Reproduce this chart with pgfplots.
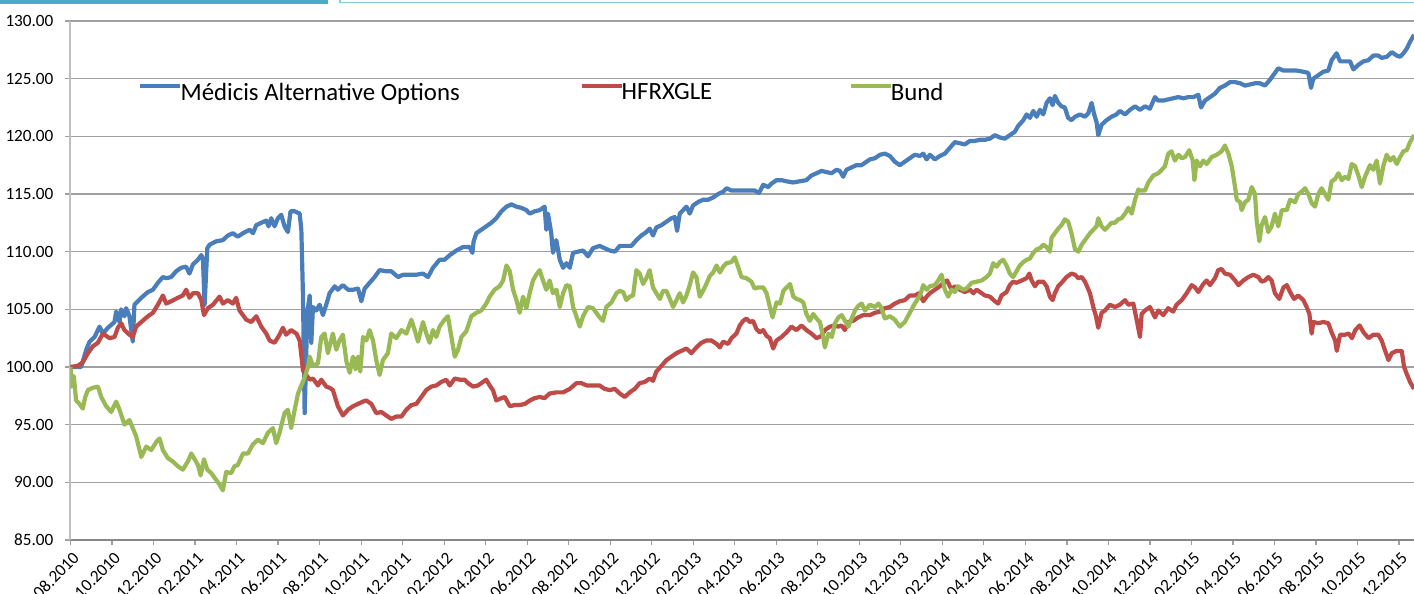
\documentclass[border=0pt]{standalone}
\usepackage{fontspec}
\setmainfont{Carlito}
\usepackage{pgfplots}
\usepackage{pgfplotstable}
\pgfplotsset{compat=1.18}
\definecolor{serA}{HTML}{4A7EBB}
\definecolor{serB}{HTML}{BE4B48}
\definecolor{serC}{HTML}{98B954}
\definecolor{gridgray}{HTML}{A0A0A0}
\definecolor{xaxisgray}{HTML}{888888}
\definecolor{yaxisgray}{HTML}{BFBFBF}
\definecolor{tealbar}{HTML}{4BACC6}
\definecolor{teallight}{HTML}{8CCBDA}

\pgfplotstableread{
x y
0 100.0
0.51 100.0
0.76 101.5
0.92 102.2
1.16 102.6
1.40 103.5
1.56 102.9
1.80 103.4
2.12 103.9
2.20 104.8
2.36 103.9
2.44 105.0
2.60 104.4
2.68 105.1
2.84 104.4
3.00 102.2
3.08 105.4
3.41 106.0
3.73 106.5
3.97 106.7
4.21 107.3
4.45 107.8
4.61 107.7
4.85 107.8
5.09 108.3
5.33 108.6
5.57 108.7
5.73 108.1
5.90 108.9
6.14 109.3
6.30 109.7
6.38 109.4
6.46 105.4
6.59 110.3
6.70 110.6
7.02 110.9
7.34 111.0
7.58 111.4
7.82 111.6
8.06 111.3
8.31 111.6
8.63 111.9
8.79 111.6
8.95 112.3
9.19 112.5
9.43 112.7
9.54 112.2
9.67 112.9
9.83 112.2
9.99 112.9
10.15 113.2
10.31 112.2
10.47 111.7
10.60 113.5
10.80 113.5
11.04 113.3
11.12 111.9
11.20 106.1
11.28 96.0
11.41 104.7
11.52 106.2
11.60 102.1
11.68 105.2
11.84 104.9
12.00 105.4
12.16 104.5
12.32 105.4
12.48 106.4
12.73 107.0
12.88 106.7
13.12 107.1
13.37 106.7
13.61 106.7
13.85 106.8
14.01 105.7
14.17 106.8
14.41 107.3
14.65 107.8
14.89 108.4
15.21 108.3
15.45 108.3
15.78 107.8
16.02 108.0
16.34 108.0
16.66 108.0
16.98 108.1
17.22 107.8
17.46 108.6
17.78 109.3
18.02 109.3
18.27 109.7
18.59 110.1
18.91 110.4
19.23 110.4
19.36 109.9
19.42 110.9
19.55 111.6
19.79 111.9
20.03 112.2
20.27 112.5
20.51 112.9
20.76 113.5
21.00 113.9
21.24 114.1
21.48 113.9
21.72 113.8
21.96 113.6
22.12 113.3
22.36 113.5
22.60 113.6
22.84 113.9
22.92 111.9
23.00 113.3
23.16 111.6
23.24 109.9
23.40 111.0
23.57 109.3
23.73 108.6
23.89 109.0
24.05 108.6
24.21 109.9
24.45 110.0
24.69 110.1
24.93 109.6
25.17 110.3
25.49 110.5
25.73 110.3
25.98 110.1
26.22 110.0
26.46 110.5
26.70 110.5
27.02 110.5
27.26 111.0
27.50 111.4
27.74 111.7
27.90 112.0
28.06 111.4
28.22 112.1
28.47 112.3
28.71 112.6
28.95 112.9
29.11 113.0
29.22 111.8
29.35 113.3
29.51 113.6
29.67 113.9
29.83 113.3
29.99 114.0
30.23 114.3
30.47 114.5
30.71 114.5
30.96 114.7
31.20 115.0
31.44 115.2
31.60 115.5
31.84 115.3
32.08 115.3
32.40 115.3
32.72 115.3
32.96 115.3
33.17 115.1
33.37 115.8
33.61 115.6
33.77 115.9
34.01 116.2
34.25 116.2
34.49 116.1
34.81 116.0
35.13 116.1
35.45 116.2
35.69 116.6
35.94 116.8
36.18 117.0
36.42 116.9
36.66 116.8
36.90 117.1
37.06 117.0
37.22 116.5
37.38 117.1
37.62 117.3
37.86 117.5
38.10 117.5
38.35 117.8
38.51 118.0
38.75 118.1
38.99 118.4
39.23 118.5
39.47 118.3
39.71 117.8
39.95 117.5
40.19 117.8
40.43 118.1
40.67 118.4
40.92 118.3
41.08 118.5
41.24 118.0
41.40 118.4
41.64 118.0
41.88 118.3
42.12 118.5
42.36 119.0
42.60 119.5
42.84 119.4
43.08 119.3
43.33 119.6
43.57 119.6
43.81 119.7
44.05 119.7
44.29 119.8
44.53 120.1
44.77 119.9
45.01 119.8
45.25 120.1
45.49 120.4
45.65 120.9
45.90 121.4
46.06 121.9
46.22 121.6
46.38 122.2
46.54 121.7
46.70 122.3
46.86 121.9
47.02 122.9
47.18 123.3
47.31 122.7
47.42 123.5
47.58 122.9
47.74 122.6
47.90 122.5
48.06 121.6
48.22 121.4
48.39 121.7
48.63 121.9
48.87 121.7
49.03 122.0
49.19 122.9
49.30 122.0
49.43 121.2
49.51 120.1
49.67 121.0
49.91 121.4
50.15 121.7
50.39 121.9
50.55 122.2
50.80 121.9
51.04 122.3
51.28 122.6
51.52 122.3
51.76 122.6
52.00 122.4
52.24 123.4
52.40 123.1
52.64 123.1
52.88 123.2
53.12 123.3
53.36 123.4
53.61 123.3
53.85 123.4
54.09 123.4
54.33 123.6
54.46 122.5
54.65 123.1
54.89 123.4
55.13 123.7
55.37 124.2
55.61 124.4
55.86 124.7
56.10 124.7
56.34 124.6
56.58 124.4
56.82 124.5
57.06 124.6
57.30 124.6
57.54 124.4
57.78 124.9
58.02 125.5
58.18 125.9
58.43 125.7
58.75 125.7
59.07 125.7
59.39 125.6
59.63 125.5
59.76 124.2
59.87 125.0
60.11 125.3
60.35 125.6
60.59 125.7
60.75 126.6
60.99 127.2
61.16 126.5
61.40 126.5
61.64 126.5
61.80 125.8
62.04 126.2
62.28 126.5
62.52 126.6
62.76 127.0
63.00 127.0
63.16 126.8
63.41 126.9
63.65 127.3
63.89 127.0
64.05 126.9
64.21 127.2
64.37 127.6
64.53 128.2
64.72 128.8
}\medicis

\pgfplotstableread{
x y
0 100.0
0.35 100.1
0.59 100.4
0.84 101.2
1.08 101.8
1.32 102.1
1.56 102.9
1.72 102.7
1.88 102.5
2.12 102.6
2.28 103.4
2.44 103.8
2.60 103.2
2.84 102.8
3.00 102.6
3.16 103.5
3.41 103.9
3.73 104.4
3.97 104.7
4.21 105.4
4.45 106.2
4.61 105.5
4.85 105.7
5.17 106.0
5.41 106.2
5.57 106.7
5.73 106.0
5.90 106.4
6.14 106.4
6.30 105.8
6.43 104.5
6.62 105.1
6.86 105.4
7.18 106.1
7.34 105.5
7.58 105.8
7.82 105.5
7.98 106.0
8.14 104.9
8.47 104.1
8.71 103.9
8.95 104.4
9.19 103.5
9.43 102.9
9.59 102.3
9.83 102.1
10.07 102.8
10.23 103.4
10.39 102.8
10.63 103.2
10.88 102.9
11.04 102.3
11.20 99.7
11.36 99.3
11.52 98.9
11.68 99.0
11.92 98.4
12.08 98.9
12.32 98.3
12.48 98.2
12.64 98.0
12.88 96.6
13.12 95.8
13.37 96.3
13.61 96.6
13.85 96.8
14.09 97.0
14.25 97.1
14.49 96.8
14.73 96.0
14.97 96.1
15.21 95.8
15.45 95.5
15.69 95.7
15.94 95.7
16.18 96.3
16.42 96.7
16.66 96.8
16.90 97.4
17.14 98.0
17.38 98.3
17.62 98.4
17.86 98.7
18.10 98.9
18.27 98.4
18.51 99.0
18.75 98.9
18.99 98.9
19.15 98.6
19.39 98.3
19.63 98.4
19.87 98.7
20.03 98.9
20.19 98.4
20.35 98.0
20.51 97.1
20.76 97.3
20.92 97.4
21.16 96.6
21.40 96.7
21.64 96.7
21.89 96.8
22.13 97.1
22.36 97.3
22.60 97.4
22.84 97.3
23.08 97.7
23.41 97.8
23.73 97.8
24.05 98.1
24.37 98.6
24.61 98.6
24.86 98.4
25.17 98.4
25.49 98.4
25.73 98.1
25.98 98.0
26.22 98.1
26.46 97.7
26.70 97.4
26.94 97.8
27.18 98.1
27.42 98.6
27.66 98.7
27.90 99.0
28.06 98.8
28.22 99.6
28.47 100.1
28.71 100.6
28.95 100.9
29.19 101.2
29.43 101.4
29.67 101.6
29.91 101.2
30.15 101.7
30.39 102.1
30.63 102.3
30.88 102.3
31.12 102.0
31.28 101.7
31.44 102.2
31.68 102.0
31.84 102.5
32.08 102.9
32.24 103.6
32.40 104.0
32.56 104.2
32.72 103.9
32.88 104.0
33.04 103.3
33.20 103.0
33.37 103.2
33.53 102.7
33.69 102.5
33.85 101.6
34.01 102.3
34.25 102.6
34.49 103.0
34.73 103.5
34.97 103.2
35.21 103.6
35.45 103.2
35.69 102.9
35.94 102.5
36.18 102.7
36.34 103.2
36.58 103.5
36.82 103.6
36.98 103.5
37.14 103.6
37.30 103.2
37.46 103.9
37.70 104.0
37.94 104.3
38.19 104.5
38.51 104.5
38.75 104.7
38.99 104.8
39.23 105.1
39.47 105.2
39.71 105.5
39.95 105.7
40.19 105.8
40.43 106.2
40.67 106.2
40.88 106.4
41.08 105.7
41.24 106.1
41.40 106.4
41.64 106.7
41.88 107.0
42.04 107.3
42.23 107.5
42.44 106.7
42.60 107.0
42.84 106.7
43.08 106.5
43.33 106.7
43.49 106.4
43.65 106.7
43.89 106.4
44.05 106.2
44.29 106.1
44.53 105.7
44.69 105.5
44.85 106.2
45.09 106.5
45.25 107.1
45.41 107.4
45.57 107.3
45.82 107.5
46.06 107.7
46.19 108.1
46.30 107.5
46.46 107.0
46.62 107.4
46.86 107.4
47.02 107.0
47.18 106.1
47.31 105.8
47.42 106.4
47.58 107.0
47.74 107.3
47.98 107.8
48.22 108.1
48.39 108.0
48.55 107.7
48.71 107.8
48.87 107.4
49.11 106.4
49.27 105.2
49.40 104.4
49.51 103.4
49.67 104.7
49.83 104.9
50.07 105.4
50.31 105.2
50.55 105.4
50.80 105.8
50.96 105.4
51.20 105.5
51.36 104.1
51.52 102.6
51.60 104.6
51.76 104.9
52.00 105.2
52.24 104.3
52.40 104.9
52.64 104.5
52.88 105.1
53.12 104.8
53.28 105.4
53.53 105.8
53.77 106.4
54.01 107.1
54.17 106.9
54.33 106.5
54.57 107.2
54.73 107.5
54.89 107.1
55.13 107.7
55.29 108.4
55.45 108.5
55.61 108.1
55.86 108.0
56.10 107.5
56.26 107.1
56.50 107.5
56.74 107.8
56.98 108.0
57.22 107.8
57.38 107.4
57.54 107.5
57.70 107.8
57.86 107.5
58.02 106.4
58.23 105.9
58.43 106.9
58.59 107.1
58.75 106.5
58.94 105.9
59.14 106.2
59.39 105.8
59.55 105.2
59.68 104.6
59.79 102.9
59.87 103.9
60.11 103.8
60.35 103.9
60.59 103.8
60.75 103.0
60.92 102.3
61.00 101.4
61.16 102.8
61.40 102.8
61.57 102.9
61.73 102.5
61.89 103.2
62.10 103.6
62.29 103.0
62.53 102.5
62.76 102.8
63.00 102.8
63.16 102.3
63.33 101.4
63.49 100.6
63.65 101.2
63.89 101.4
64.13 101.4
64.24 100.0
64.37 99.4
64.53 98.7
64.72 98.1
}\hfrx

\pgfplotstableread{
x y
0.00 100.0
0.06 98.3
0.16 99.2
0.27 97.1
0.43 96.8
0.59 96.4
0.71 97.4
0.84 98.0
1.08 98.2
1.32 98.3
1.48 97.4
1.72 96.6
1.96 96.1
2.20 97.0
2.36 96.3
2.60 95.0
2.84 95.4
3.00 94.7
3.16 94.0
3.41 92.2
3.65 93.1
3.89 92.8
4.13 93.5
4.29 93.8
4.45 92.8
4.69 92.1
4.93 91.8
5.17 91.4
5.41 91.1
5.65 91.8
5.82 92.5
5.98 92.0
6.14 91.5
6.27 90.6
6.43 92.0
6.59 91.1
6.78 90.8
7.02 90.2
7.18 89.8
7.34 89.3
7.50 90.9
7.74 90.8
7.90 91.4
8.06 91.5
8.31 92.5
8.55 92.5
8.79 93.3
9.03 93.7
9.27 93.4
9.51 94.3
9.75 94.7
9.91 93.4
10.07 94.3
10.31 96.0
10.47 96.3
10.63 94.7
10.80 96.3
10.96 97.7
11.12 98.4
11.28 99.1
11.44 100.0
11.52 100.9
11.68 100.1
11.92 100.3
12.08 102.6
12.24 102.9
12.40 101.2
12.64 102.9
12.80 101.5
12.96 102.3
13.12 102.8
13.29 100.5
13.45 99.5
13.61 100.9
13.73 99.8
13.85 100.9
13.96 99.6
14.09 102.6
14.25 102.3
14.41 103.2
14.57 102.3
14.73 100.6
14.89 99.3
15.05 100.6
15.29 101.2
15.45 102.9
15.69 102.5
15.94 103.2
16.18 102.9
16.42 104.1
16.58 103.2
16.74 102.2
16.98 103.9
17.14 102.9
17.30 102.1
17.46 103.2
17.62 102.6
17.78 103.5
18.02 104.1
18.18 104.4
18.35 102.6
18.51 100.9
18.67 101.5
18.83 102.6
19.07 103.1
19.31 104.4
19.55 104.7
19.79 104.9
20.03 105.5
20.19 106.1
20.43 106.7
20.67 107.0
20.84 107.5
21.00 108.8
21.16 108.3
21.32 106.7
21.48 105.8
21.64 104.7
21.80 106.1
21.96 105.1
22.12 106.4
22.28 107.5
22.44 108.0
22.60 108.4
22.76 107.5
22.92 106.7
23.08 107.5
23.24 106.4
23.41 106.7
23.57 105.2
23.73 106.4
23.89 107.1
24.05 107.0
24.21 105.2
24.37 104.4
24.53 103.5
24.69 104.4
24.93 105.2
25.17 105.1
25.49 104.3
25.65 104.0
25.81 105.2
26.06 105.6
26.30 106.4
26.46 106.6
26.62 106.5
26.78 105.8
26.94 106.1
27.10 106.2
27.26 108.4
27.42 108.1
27.58 107.2
27.74 107.7
27.90 108.4
28.06 106.9
28.22 106.4
28.39 105.9
28.55 106.6
28.71 106.6
28.87 105.9
29.03 105.2
29.19 105.8
29.35 106.4
29.51 105.6
29.67 106.2
29.83 107.1
29.99 108.2
30.15 107.8
30.31 106.1
30.47 106.6
30.63 107.2
30.80 107.9
30.96 108.2
31.12 108.8
31.28 108.2
31.44 108.7
31.60 109.0
31.84 109.1
32.00 109.5
32.16 108.7
32.32 107.8
32.56 107.7
32.80 107.4
32.96 106.8
33.12 106.9
33.37 106.9
33.53 106.4
33.69 105.2
33.82 104.3
34.01 105.6
34.18 105.5
34.34 106.6
34.50 106.9
34.66 107.2
34.82 106.1
34.98 105.9
35.14 105.8
35.30 105.6
35.45 104.6
35.61 104.0
35.78 104.6
35.94 104.2
36.10 103.9
36.26 102.6
36.34 101.7
36.51 102.9
36.67 102.6
36.83 103.8
36.99 104.3
37.15 104.5
37.31 104.0
37.47 103.5
37.63 104.2
37.79 104.9
37.95 105.3
38.11 105.5
38.27 104.9
38.51 105.4
38.75 105.2
38.92 105.5
39.07 105.1
39.23 104.2
39.47 104.4
39.71 104.1
39.95 103.5
40.19 103.9
40.43 104.7
40.67 105.5
40.92 106.2
41.08 107.1
41.24 106.7
41.40 107.0
41.64 107.1
41.80 107.5
41.96 108.0
42.12 106.7
42.28 106.1
42.44 106.7
42.60 106.5
42.76 107.0
43.00 106.7
43.16 106.8
43.41 107.3
43.65 107.4
43.89 107.5
44.13 107.8
44.29 108.1
44.45 109.0
44.61 108.7
44.77 109.1
44.93 109.3
45.09 108.8
45.25 108.1
45.41 107.8
45.57 108.3
45.73 108.8
45.90 109.1
46.06 109.3
46.22 109.4
46.38 109.9
46.54 110.2
46.70 110.3
46.86 110.6
47.02 110.4
47.18 110.0
47.26 111.2
47.42 111.6
47.58 112.0
47.74 112.3
47.90 112.8
48.06 112.6
48.22 111.6
48.39 110.2
48.55 110.0
48.71 110.6
48.87 111.0
49.11 111.6
49.27 111.9
49.43 112.2
49.51 112.9
49.67 112.2
49.83 111.9
49.99 112.2
50.15 112.5
50.31 112.5
50.47 112.8
50.63 112.9
50.80 113.3
50.96 113.8
51.12 113.3
51.28 114.5
51.44 115.4
51.52 115.3
51.76 115.3
51.92 116.0
52.16 116.6
52.40 116.8
52.57 117.1
52.72 117.4
52.88 118.5
53.04 118.7
53.20 117.9
53.37 118.4
53.53 118.1
53.69 118.2
53.89 118.8
54.06 117.9
54.14 116.2
54.25 117.9
54.41 117.4
54.57 117.9
54.73 117.6
54.97 118.2
55.21 118.4
55.45 118.7
55.61 119.2
55.78 118.5
55.94 117.4
56.10 115.6
56.18 114.5
56.34 114.3
56.42 113.6
56.58 114.3
56.74 114.5
56.90 115.6
57.06 115.0
57.14 112.7
57.27 110.9
57.38 112.3
57.54 113.0
57.70 111.7
57.86 112.2
58.02 113.3
58.18 112.2
58.35 113.6
58.59 113.6
58.75 114.5
58.99 114.3
59.15 115.0
59.31 115.2
59.47 115.5
59.63 115.0
59.79 114.2
59.95 113.9
60.11 115.0
60.27 115.5
60.43 115.0
60.59 114.5
60.75 116.1
60.92 116.3
61.08 116.8
61.24 116.2
61.40 116.5
61.56 116.3
61.72 117.6
61.88 117.4
62.04 116.6
62.20 115.6
62.36 116.5
62.60 117.5
62.76 117.1
62.92 117.9
63.08 115.9
63.24 117.4
63.40 118.4
63.57 117.9
63.73 118.2
63.89 117.6
64.05 118.2
64.21 118.7
64.37 118.8
64.53 119.5
64.72 120.1
}\bund

\begin{document}
\begin{tikzpicture}
\begin{axis}[
  at={(35.25pt,27pt)}, anchor=south west,
  scale only axis, width=671.75pt, height=259.5pt,
  xmin=0, xmax=64.72, ymin=85, ymax=130,
  axis lines*=left,
  x axis line style={draw=xaxisgray, line width=0.9pt},
  y axis line style={draw=yaxisgray, line width=1pt},
  ytick={85,90,...,130},
  xtick={0,2,...,64},
  xticklabels={08.2010,10.2010,12.2010,02.2011,04.2011,06.2011,08.2011,10.2011,12.2011,02.2012,04.2012,06.2012,08.2012,10.2012,12.2012,02.2013,04.2013,06.2013,08.2013,10.2013,12.2013,02.2014,04.2014,06.2014,08.2014,10.2014,12.2014,02.2015,04.2015,06.2015,08.2015,10.2015,12.2015},
  ymajorgrids, grid style={gridgray, line width=0.6pt},
  tick align=outside, major tick length=2.5pt,
  tick style={gridgray, line width=0.6pt},
  /pgf/number format/assume math mode=true,
  y tick label style={/pgf/number format/fixed, /pgf/number format/fixed zerofill, /pgf/number format/precision=2},
  tick label style={font=\fontsize{8.6}{10}\selectfont, text=black},
  yticklabel style={xshift=-2.5pt},
  xticklabel style={rotate=45, anchor=east, inner sep=1pt, yshift=-5.5pt, xshift=-0.5pt},
  legend columns=3,
  legend style={at={(0.0502,0.861)}, anchor=west, draw=none, fill=none, inner sep=0pt,
    font=\fontsize{12.4}{14}\selectfont,
    nodes={inner sep=0pt},
    /tikz/every even column/.append style={column sep=0pt},
    /tikz/every odd column/.append style={column sep=0pt}},
  legend cell align=left,
  legend image code/.code={\draw[#1] (0pt,3.4pt) -- (20pt,3.4pt);},
  every axis plot/.append style={line width=2.1pt, line join=round},
]
\addplot[serA, no markers] table[x=x, y=y] {\medicis};
\addlegendentry{\hspace*{-1pt}\makebox[199.5pt][l]{Médicis Alternative Options}}
\addplot[serB, no markers] table[x=x, y=y] {\hfrx};
\addlegendentry{\hspace*{-1pt}\makebox[113.5pt][l]{HFRXGLE}}
\addplot[serC, no markers] table[x=x, y=y] {\bund};
\addlegendentry{\hspace*{-1pt}Bund}
\end{axis}
\fill[tealbar] (0pt,295pt) rectangle (164pt,297pt);
\draw[teallight, line width=0.6pt] (170pt,299pt) rectangle (708pt,295.6pt);
\pgfresetboundingbox
\path (0pt,0pt) rectangle (707pt,297pt);
\end{tikzpicture}
\end{document}
